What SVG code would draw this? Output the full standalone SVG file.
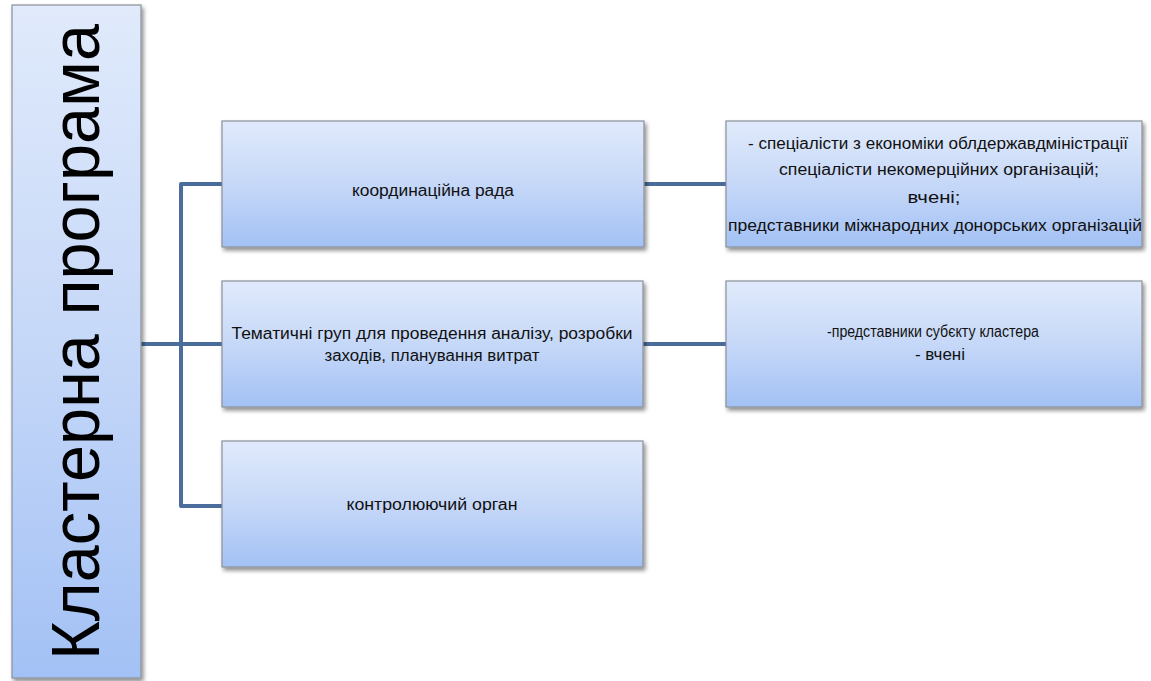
<svg xmlns="http://www.w3.org/2000/svg" width="1151" height="681" viewBox="0 0 1151 681">
<defs>
<linearGradient id="g" x1="0" y1="0" x2="0" y2="1">
<stop offset="0" stop-color="#e0eafb"/>
<stop offset="0.5" stop-color="#c6d8f8"/>
<stop offset="1" stop-color="#a3c1f5"/>
</linearGradient>
<filter id="sh" x="-5%" y="-5%" width="115%" height="130%">
<feGaussianBlur in="SourceAlpha" stdDeviation="2"/>
<feOffset dx="2" dy="3" result="b"/>
<feComponentTransfer><feFuncA type="linear" slope="0.45"/></feComponentTransfer>
<feMerge><feMergeNode/><feMergeNode in="SourceGraphic"/></feMerge>
</filter>
</defs>
<style>
.box{fill:url(#g);stroke:#8a8f99;stroke-width:1.2;filter:url(#sh)}
.t{font-family:"Liberation Sans",Arial,sans-serif;font-size:16px;fill:#111;text-anchor:middle}
.c{fill:none;stroke:#4a6d9b;stroke-width:4;stroke-linejoin:round}
</style>
<rect width="1151" height="681" fill="#fff"/>
<g id="connectors">
<path class="c" d="M141 344 H181 M222 184 H181 V506 H222 M181 344 H222"/>
<path class="c" d="M644 184 H726 M643 344 H726"/>
</g>
<g id="root">
<rect class="box" x="12" y="5" width="129" height="673"/>
<text transform="translate(99,342) rotate(-90)" style="font-family:'Liberation Sans',Arial,sans-serif;font-size:68px;fill:#000;text-anchor:middle" textLength="636" lengthAdjust="spacingAndGlyphs">Кластерна програма</text>
</g>
<g id="coord">
<rect class="box" x="222" y="121" width="422" height="126"/>
<text class="t" x="433" y="196" textLength="162" lengthAdjust="spacingAndGlyphs">координаційна рада</text>
</g>
<g id="thematic">
<rect class="box" x="222" y="281" width="421" height="126"/>
<text class="t" x="432" y="339" textLength="401" lengthAdjust="spacingAndGlyphs">Тематичні груп для проведення аналізу, розробки</text>
<text class="t" x="432" y="361" textLength="215" lengthAdjust="spacingAndGlyphs">заходів, планування витрат</text>
</g>
<g id="control">
<rect class="box" x="222" y="441" width="421" height="126"/>
<text class="t" x="432" y="510" textLength="171" lengthAdjust="spacingAndGlyphs">контролюючий орган</text>
</g>
<g id="members1">
<rect class="box" x="726" y="121" width="416" height="126"/>
<text class="t" x="938" y="149" textLength="380" lengthAdjust="spacingAndGlyphs">- спеціалісти з економіки облдержавдміністрації</text>
<text class="t" x="939" y="175" textLength="320" lengthAdjust="spacingAndGlyphs">спеціалісти некомерційних організацій;</text>
<text class="t" x="934" y="203" textLength="53" lengthAdjust="spacingAndGlyphs">вчені;</text>
<text class="t" x="935" y="231" textLength="414" lengthAdjust="spacingAndGlyphs">представники міжнародних донорських організацій</text>
</g>
<g id="members2">
<rect class="box" x="726" y="281" width="416" height="126"/>
<text class="t" x="933" y="337" textLength="212" lengthAdjust="spacingAndGlyphs">-представники субєкту кластера</text>
<text class="t" x="940" y="360" textLength="50" lengthAdjust="spacingAndGlyphs">- вчені</text>
</g>
</svg>
